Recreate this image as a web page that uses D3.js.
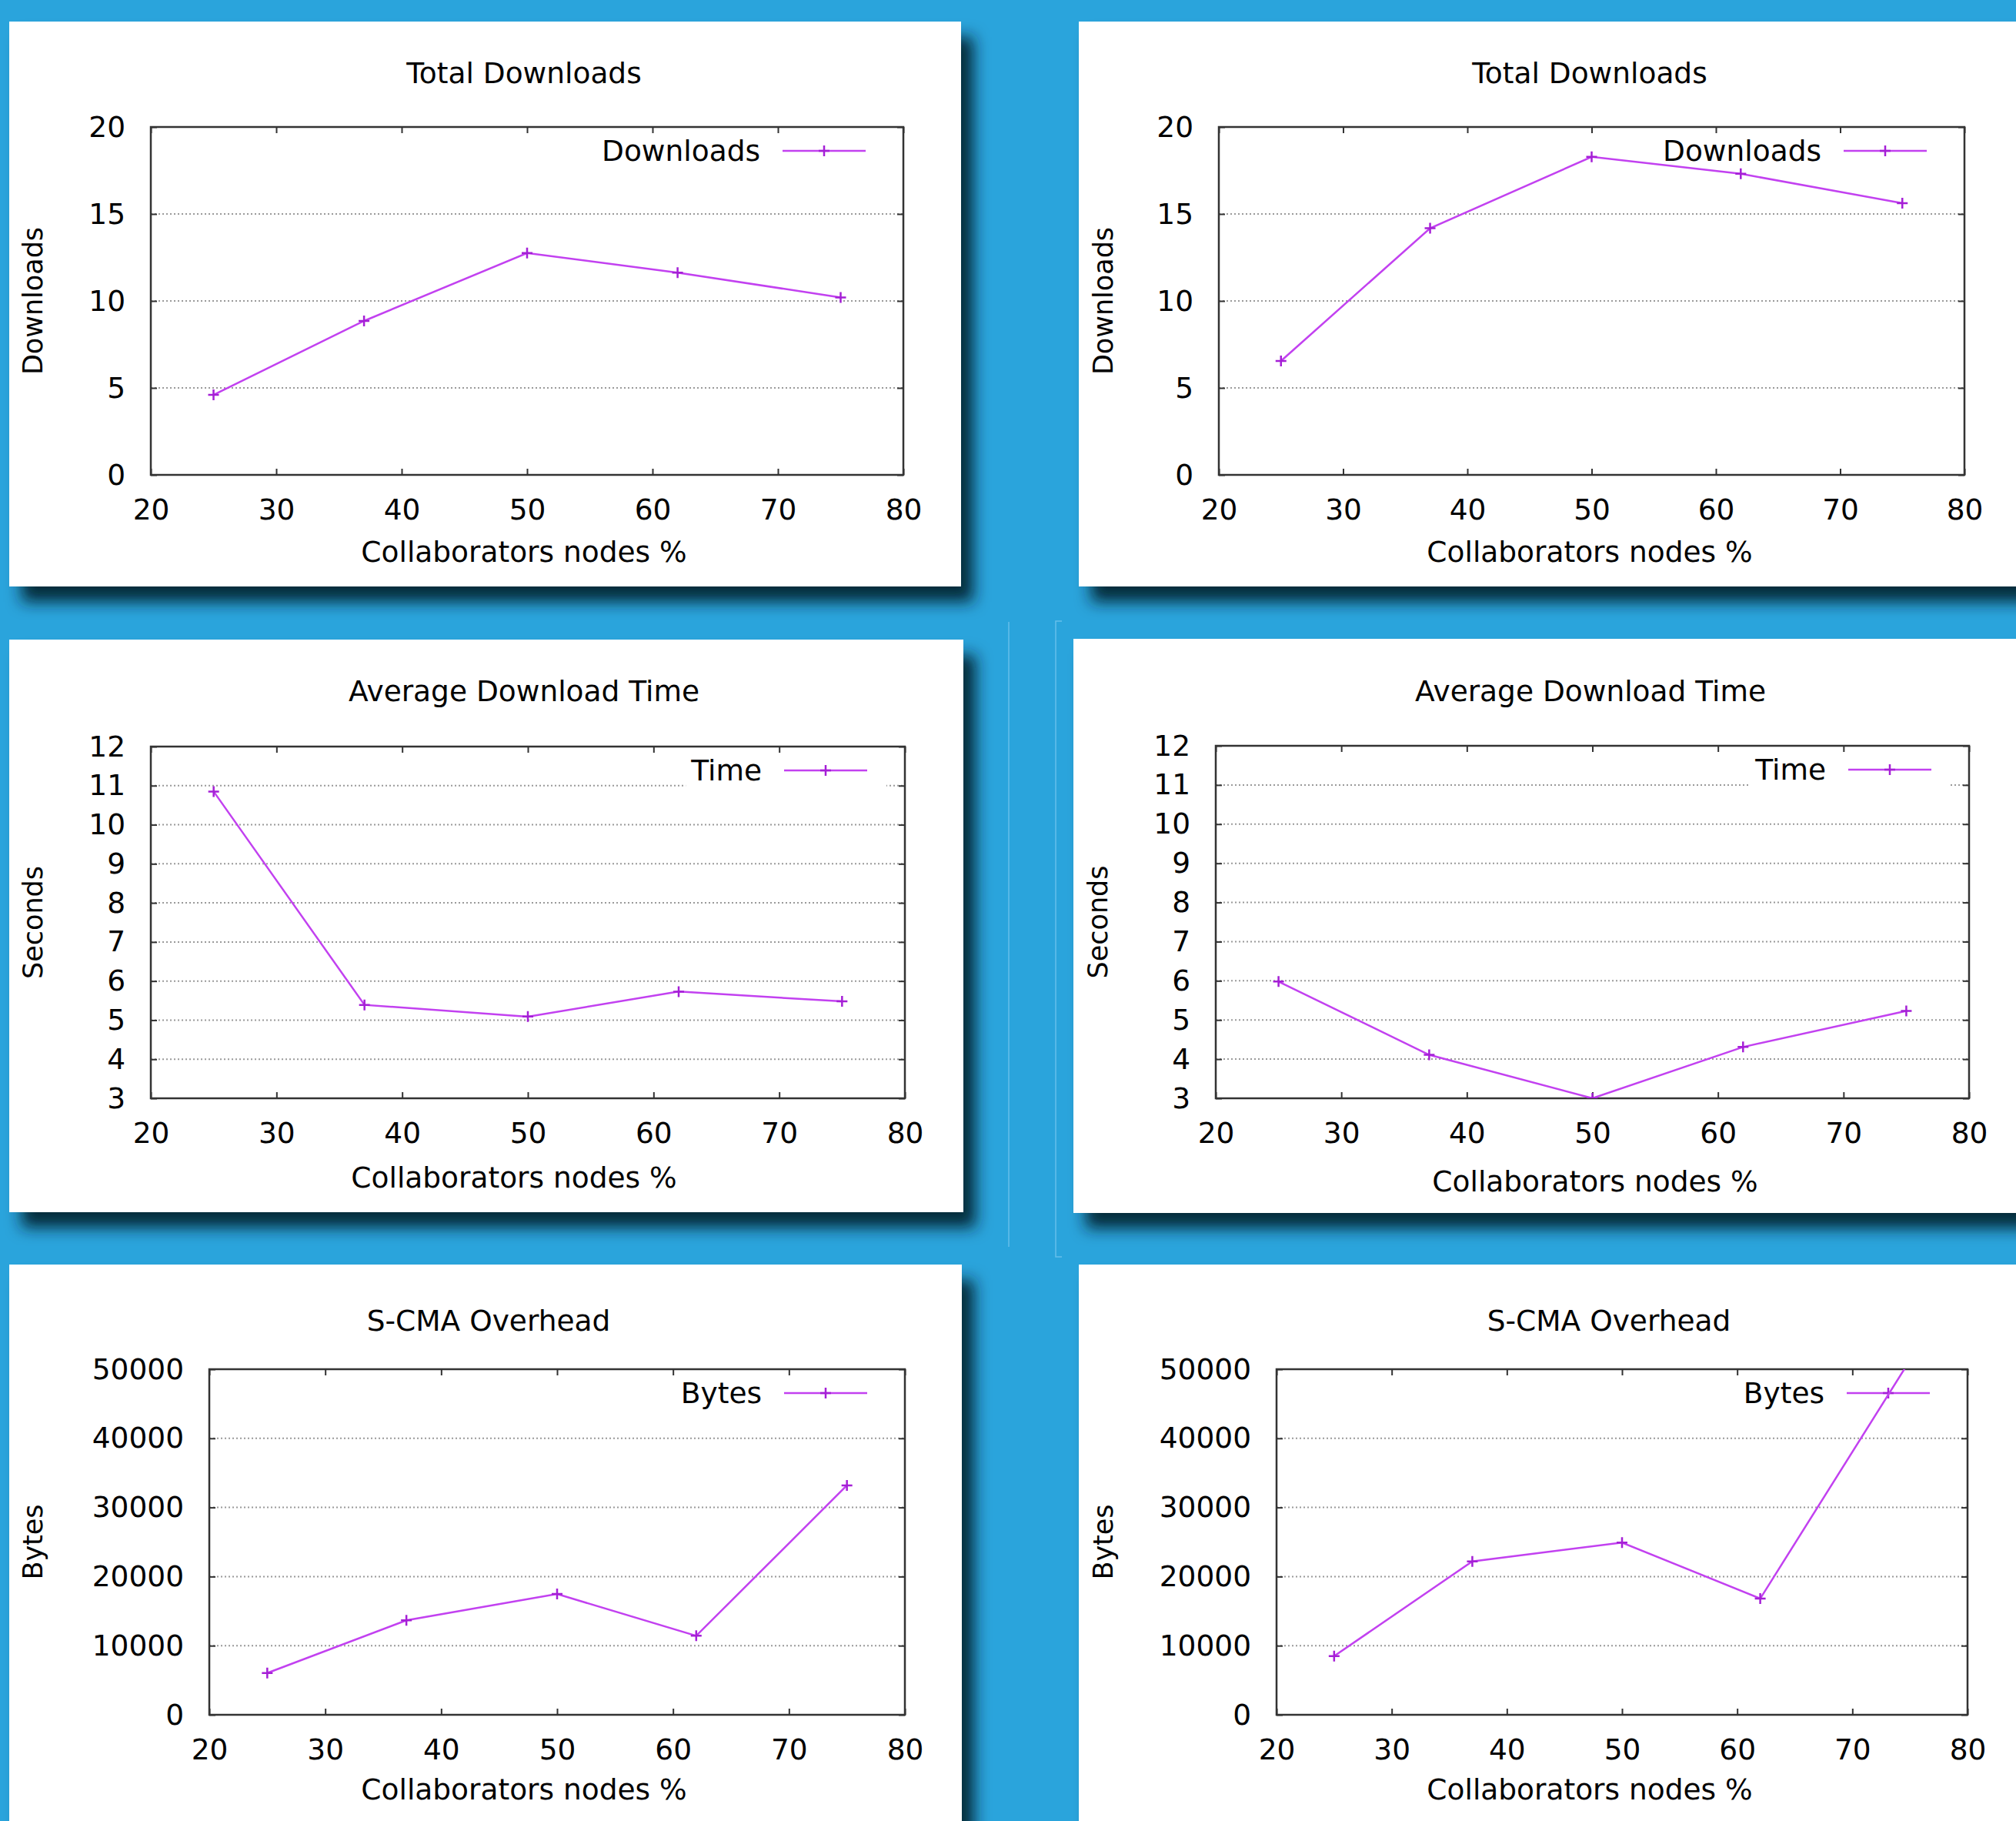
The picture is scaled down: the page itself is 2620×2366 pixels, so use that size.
<!DOCTYPE html>
<html>
<head>
<meta charset="utf-8">
<script src="https://cdn.jsdelivr.net/npm/d3@7"></script>
<style>
  body { margin: 0; background: #2aa4dc; }
  svg { display: block; }
  text { font-family: "DejaVu Sans", sans-serif; font-size: 37.5px; fill: #000; }
  text.ytitle { font-size: 35px; }
</style>
</head>
<body>
<div id="chart"></div>
<script>
// data
const nodes = [25, 37, 50, 62, 75];
const downloadsA = [4.6, 8.85, 12.75, 11.63, 10.2];
const downloadsB = [6.55, 14.18, 18.28, 17.31, 15.62];
const timeA = [10.85, 5.39, 5.09, 5.73, 5.48];
const timeB = [5.98, 4.11, 3.0, 4.31, 5.23];
const bytesA = [6040, 13660, 17470, 11430, 33190];
const bytesB = [8490, 22200, 24920, 16810, 51300];

const xTicks = [20, 30, 40, 50, 60, 70, 80];
const downloadTicks = [0, 5, 10, 15, 20];
const timeTicks = [3, 4, 5, 6, 7, 8, 9, 10, 11, 12];
const bytesTicks = [0, 10000, 20000, 30000, 40000, 50000];

const titles = ["Total Downloads", "Average Download Time", "S-CMA Overhead"];
const yTitles = ["Downloads", "Seconds", "Bytes"];
const seriesNames = ["Downloads", "Time", "Bytes"];
const xTitle = "Collaborators nodes %";

// layout of the six panels (page pixels)
const panels = [
  {box: [12, 28, 1237, 734], plot: [196, 1174, 165, 617], title: [681, 95], xt: [681, 717], yt: 43,
   values: downloadsA, ticks: downloadTicks, kind: 0},
  {box: [1402, 28, 1300, 734], plot: [1584, 2553, 165, 617], title: [2066, 95], xt: [2066, 717], yt: 1434,
   values: downloadsB, ticks: downloadTicks, kind: 0},
  {box: [12, 831, 1240, 744], plot: [196, 1176, 970, 1427], title: [681, 898], xt: [668, 1530], yt: 43,
   values: timeA, ticks: timeTicks, kind: 1},
  {box: [1395, 830, 1300, 746], plot: [1580, 2559, 969, 1427], title: [2067, 898], xt: [2073, 1535], yt: 1427,
   values: timeB, ticks: timeTicks, kind: 1},
  {box: [12, 1643, 1238, 800], plot: [272, 1176, 1779, 2228], title: [635, 1716], xt: [681, 2325], yt: 43,
   values: bytesA, ticks: bytesTicks, kind: 2},
  {box: [1402, 1643, 1300, 800], plot: [1659, 2557, 1779, 2228], title: [2091, 1716], xt: [2066, 2325], yt: 1434,
   values: bytesB, ticks: bytesTicks, kind: 2}
];

const lineColor = "#c241f0";
const markColor = "#a51fd6";
const axisColor = "#333";

const svg = d3.select("#chart").append("svg")
  .attr("width", 2620).attr("height", 2366);

const defs = svg.append("defs");
const shadow = defs.append("filter").attr("id", "shadow")
  .attr("x", "-5%").attr("y", "-5%").attr("width", "115%").attr("height", "120%");
shadow.append("feDropShadow")
  .attr("dx", 16).attr("dy", 20).attr("stdDeviation", 10)
  .attr("flood-color", "#061c28").attr("flood-opacity", 0.9);

svg.append("rect").attr("width", 2620).attr("height", 2366).attr("fill", "#2aa4dc");

// thin separators between the middle panels
svg.append("path")
  .attr("d", "M1311,808V1620M1380,807H1372V1633H1380")
  .attr("fill", "none").attr("stroke", "#66bfea").attr("stroke-width", 1.5);

panels.forEach((p, i) => {
  const [l, r, t, b] = p.plot;
  const ticks = p.ticks;

  svg.append("rect")
    .attr("x", p.box[0]).attr("y", p.box[1])
    .attr("width", p.box[2]).attr("height", p.box[3])
    .attr("fill", "#fff").attr("filter", "url(#shadow)");

  const x = d3.scaleLinear().domain([20, 80]).range([l, r]);
  const y = d3.scaleLinear().domain([ticks[0], ticks[ticks.length - 1]]).range([b, t]);

  defs.append("clipPath").attr("id", "clip" + i)
    .append("rect").attr("x", l).attr("y", t).attr("width", r - l).attr("height", b - t);

  const g = svg.append("g");

  // dotted grid on inner y ticks
  g.selectAll(".grid").data(ticks.slice(1, -1)).join("line")
    .attr("x1", l).attr("x2", r)
    .attr("y1", d => y(d)).attr("y2", d => y(d))
    .attr("stroke", "#9a9a9a").attr("stroke-width", 2)
    .attr("stroke-dasharray", "2,3");

  // legend (opaque key box hides the grid behind it)
  const legY = t + 31;
  const key = g.append("g");
  const keyBg = key.append("rect").attr("fill", "#fff");
  const keyText = key.append("text")
    .attr("x", r - 186).attr("y", legY).attr("dy", "0.35em")
    .attr("text-anchor", "end").text(seriesNames[p.kind]);
  const tw = keyText.node().getComputedTextLength();
  keyBg.attr("x", r - 186 - tw - 7).attr("y", t + 3)
    .attr("width", tw + 7 + 162).attr("height", 56);
  key.append("line")
    .attr("x1", r - 157).attr("x2", r - 49).attr("y1", legY).attr("y2", legY)
    .attr("stroke", lineColor).attr("stroke-width", 2.5);
  key.append("path")
    .attr("d", `M${r - 103 - 7},${legY}h14M${r - 103},${legY - 7}v14`)
    .attr("stroke", markColor).attr("stroke-width", 2.5);

  // axes: ticks point inward, mirrored on top and right
  g.append("g").attr("transform", `translate(0,${b})`)
    .call(d3.axisBottom(x).tickValues(xTicks).tickSize(-8).tickPadding(31));
  g.append("g").attr("transform", `translate(0,${t})`)
    .call(d3.axisTop(x).tickValues(xTicks).tickSize(-8).tickFormat(""));
  g.append("g").attr("transform", `translate(${l},0)`)
    .call(d3.axisLeft(y).tickValues(ticks).tickSize(-8).tickPadding(33).tickFormat(d3.format("d")));
  g.append("g").attr("transform", `translate(${r},0)`)
    .call(d3.axisRight(y).tickValues(ticks).tickSize(-8).tickFormat(""));
  g.selectAll(".domain").remove();
  g.selectAll(".tick line").attr("stroke", axisColor).attr("stroke-width", 2);
  g.selectAll(".tick text").attr("font-size", null).attr("font-family", null).attr("fill", "#000");

  g.append("rect")
    .attr("x", l).attr("y", t).attr("width", r - l).attr("height", b - t)
    .attr("fill", "none").attr("stroke", axisColor).attr("stroke-width", 2.5);

  // series
  const pts = nodes.map((n, k) => [n, p.values[k]]);
  const line = d3.line().x(d => x(d[0])).y(d => y(d[1]));
  const data = g.append("g").attr("clip-path", `url(#clip${i})`);
  data.append("path").datum(pts).attr("d", line)
    .attr("fill", "none").attr("stroke", lineColor).attr("stroke-width", 2.5);
  data.selectAll(".pt").data(pts).join("path")
    .attr("d", d => `M${x(d[0]) - 7},${y(d[1])}h14M${x(d[0])},${y(d[1]) - 7}v14`)
    .attr("stroke", markColor).attr("stroke-width", 2.5);

  // titles
  g.append("text").attr("x", p.title[0]).attr("y", p.title[1]).attr("dy", "0.35em")
    .attr("text-anchor", "middle").text(titles[p.kind]);
  g.append("text").attr("x", p.xt[0]).attr("y", p.xt[1]).attr("dy", "0.35em")
    .attr("text-anchor", "middle").text(xTitle);
  g.append("text").attr("class", "ytitle")
    .attr("transform", `translate(${p.yt},${(t + b) / 2}) rotate(-90)`)
    .attr("dy", "0.35em").attr("text-anchor", "middle").text(yTitles[p.kind]);
});
</script>
</body>
</html>
